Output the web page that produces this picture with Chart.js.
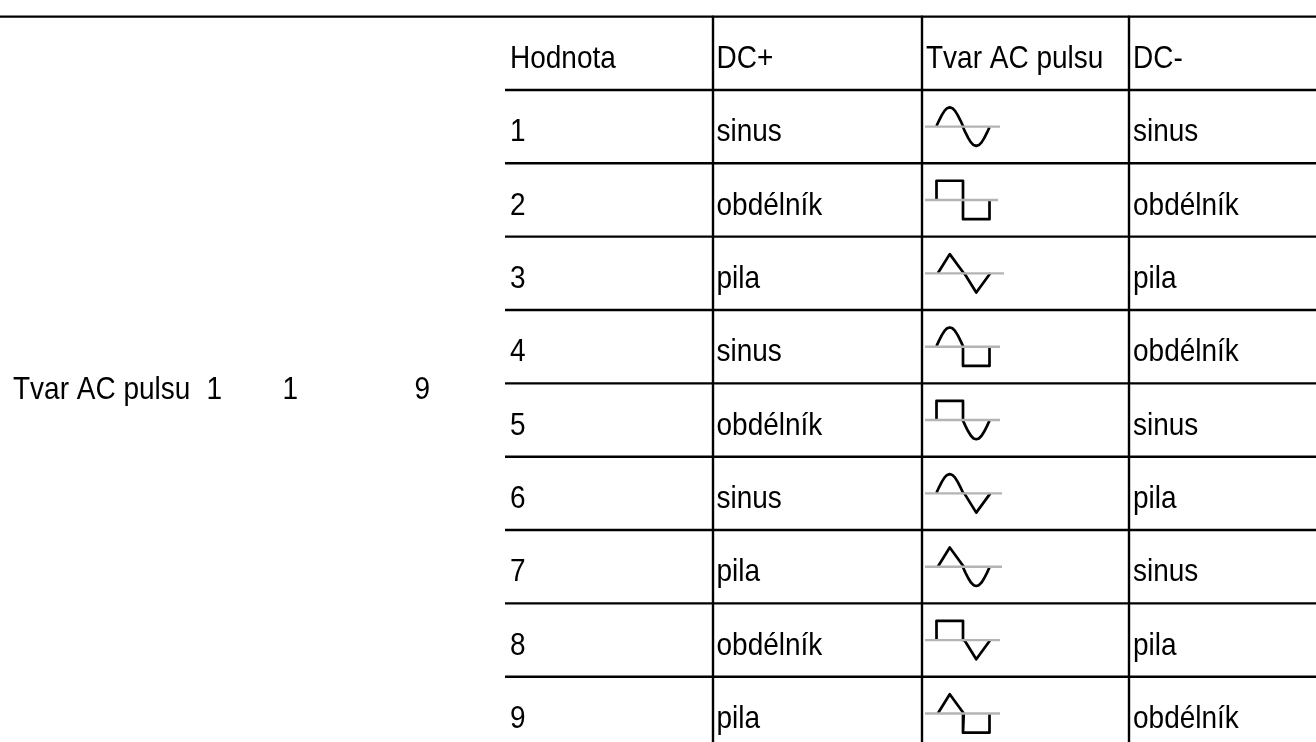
<!DOCTYPE html>
<html>
<head>
<meta charset="utf-8">
<title>Tvar AC pulsu</title>
<script src="https://cdn.jsdelivr.net/npm/chart.js@4/dist/chart.umd.js"></script>
<style>
  html, body { margin: 0; padding: 0; background: #fff; overflow: hidden; }
  canvas { display: block; }
</style>
</head>
<body>
<canvas id="table" width="1316" height="742"></canvas>
<script>
const headers = ['Hodnota', 'DC+', 'Tvar AC pulsu', 'DC-'];
const hodnoty = ['1', '2', '3', '4', '5', '6', '7', '8', '9'];
const dcPlus = ['sinus', 'obdélník', 'pila', 'sinus', 'obdélník', 'sinus', 'pila', 'obdélník', 'pila'];
const dcMinus = ['sinus', 'obdélník', 'pila', 'obdélník', 'sinus', 'pila', 'sinus', 'pila', 'obdélník'];
const sideLabel = ['Tvar AC pulsu', '1', '1', '9'];

// one half period of each pulse: [phase, level]
const sinusShape = [[0, 0.03], [0.1, 0.33], [0.2, 0.6], [0.3, 0.82], [0.4, 0.96], [0.5, 1], [0.6, 0.96], [0.7, 0.82], [0.8, 0.6], [0.9, 0.33], [1, 0.03]];
const obdelnikShape = [[0, 0], [0, 1], [1, 1], [1, 0]];
const pilaShape = [[0.05, 0], [0.5, 1], [1.03, 0]];
const shapes = { sinus: sinusShape, 'obdélník': obdelnikShape, pila: pilaShape };

// layout
const W = 1316, H = 742;
const rowH = 73.35, tableTop = 16.6;
const colX = [505, 713, 922, 1129];
const textX = [510, 716.5, 926, 1133];
const sideX = [13, 206.5, 282.5, 414.5];
const baseline = 0.7;
const waveLeft = 936.5, waveHalf = 26.5, waveAmp = 0.262;
const axisLeft = 925;
const axisEnds = [1000, 998, 1004, 1000, 1000, 1002, 1002, 1000, 1000];
const font = '28px "Liberation Sans", Arial, sans-serif';
const textStretch = 1.1; // the reference type is a bit taller than it is wide

function lobe(name, sign, start) {
  return shapes[name].map(p => ({ x: start + p[0] * waveHalf, y: sign * p[1] }));
}

const datasets = [];
function addLine(data, color, width) {
  datasets.push({ data, borderColor: color, borderWidth: width, showLine: true, pointRadius: 0, borderJoinStyle: 'round', tension: 0, fill: false });
}

// rules of the table
addLine([{ x: 0, y: 0 }, { x: W, y: 0 }], '#000', 2.4);
for (let r = 1; r <= hodnoty.length; r++) {
  addLine([{ x: colX[0], y: r }, { x: W, y: r }], '#000', 2.4);
}
colX.slice(1).forEach(x => addLine([{ x, y: 0 }, { x, y: 10 }], '#000', 2.4));

// pulse shapes
hodnoty.forEach((h, i) => {
  const mid = i + 1.5;
  addLine([{ x: axisLeft, y: mid }, { x: axisEnds[i], y: mid }], '#b4b4b4', 2.4);
});
hodnoty.forEach((h, i) => {
  const mid = i + 1.5;
  const pts = lobe(dcPlus[i], 1, waveLeft).concat(lobe(dcMinus[i], -1, waveLeft + waveHalf));
  addLine(pts.map(p => ({ x: p.x, y: mid - p.y * waveAmp })), '#000', 2.7);
});

const cellText = {
  id: 'cellText',
  afterDraw(chart) {
    const { ctx, scales } = chart;
    const px = scales.x, py = scales.y;
    ctx.save();
    ctx.font = font;
    ctx.fillStyle = '#000';
    ctx.textAlign = 'left';
    ctx.textBaseline = 'alphabetic';
    const put = (t, x, y) => {
      ctx.save();
      ctx.translate(px.getPixelForValue(x), py.getPixelForValue(y));
      ctx.scale(1, textStretch);
      ctx.fillText(t, 0, 0);
      ctx.restore();
    };
    headers.forEach((t, c) => put(t, textX[c], baseline));
    hodnoty.forEach((t, i) => {
      const y = i + 1 + baseline;
      put(t, textX[0], y);
      put(dcPlus[i], textX[1], y);
      put(dcMinus[i], textX[3], y);
    });
    sideLabel.forEach((t, c) => put(t, sideX[c], 5.21));
    ctx.restore();
  }
};

new Chart(document.getElementById('table'), {
  type: 'scatter',
  data: { datasets },
  options: {
    responsive: false,
    animation: false,
    events: [],
    layout: { padding: 0 },
    plugins: { legend: { display: false }, tooltip: { enabled: false } },
    scales: {
      x: { type: 'linear', display: false, min: 0, max: W },
      y: { type: 'linear', display: false, reverse: true, min: -tableTop / rowH, max: (H - tableTop) / rowH }
    }
  },
  plugins: [cellText]
});
</script>
</body>
</html>
